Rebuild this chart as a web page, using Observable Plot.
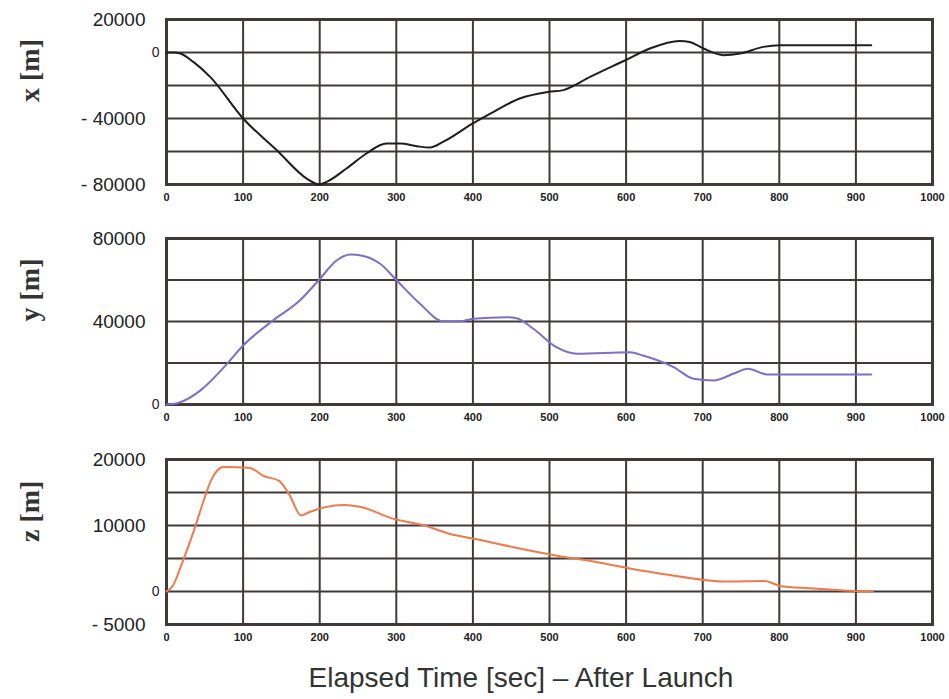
<!DOCTYPE html>
<html>
<head>
<meta charset="utf-8">
<script src="https://cdn.jsdelivr.net/npm/d3@7"></script>
<script src="https://cdn.jsdelivr.net/npm/@observablehq/plot@0.6"></script>
<style>
  body { margin: 0; background: #fff; width: 949px; font-family: "Liberation Sans", Arial, sans-serif; }
  #chart svg { display: block; }
  #caption { height: 56px; line-height: 56px; text-align: center; padding-left: 93px; font-size: 28px; color: #333; font-family: "Liberation Sans", Arial, sans-serif; }
</style>
</head>
<body>
<div id="chart"></div>
<div id="caption">Elapsed Time [sec] – After Launch</div>
<script>
// Shared time ticks
const timeTicks = [0, 100, 200, 300, 400, 500, 600, 700, 800, 900, 1000];

// x [m] panel
const xTime = [0, 10, 18, 35, 57, 100, 144, 183, 199, 209, 235, 261, 287, 305, 327, 344, 361, 400, 427, 461, 498, 518, 553, 599, 631, 670, 683, 701, 727, 749, 779, 801, 920];
const xPos  = [0, 0, -600, -5700, -14800, -40000, -59200, -76400, -80000, -78400, -70300, -61200, -55200, -55200, -56800, -57600, -54200, -43000, -36000, -27900, -23900, -22800, -14800, -4700, 2400, 7000, 6400, 2400, -1600, -600, 3400, 4400, 4400];
const xGrid = [-80000, -60000, -40000, -20000, 0, 20000];
const xTickLabels = [20000, 0, -40000, -80000];

// y [m] panel
const yTime = [0, 8, 18, 44, 79, 100, 139, 174, 199, 222, 240, 257, 279, 300, 331, 361, 383, 400, 444, 457, 479, 509, 536, 605, 622, 662, 688, 714, 740, 759, 784, 920];
const yPos  = [0, 200, 1100, 6700, 19600, 28400, 40500, 50100, 60000, 69400, 72300, 71600, 67800, 60000, 48500, 40100, 40100, 41300, 42100, 41600, 36500, 27600, 24400, 25200, 23600, 18000, 12400, 11600, 14800, 17200, 14500, 14500];
const yGrid = [0, 20000, 40000, 60000, 80000];
const yTickLabels = [80000, 40000, 0];

// z [m] panel
const zTime = [0, 8, 20, 36, 48, 58, 66, 74, 108, 127, 147, 160, 176, 186, 206, 232, 252, 297, 337, 369, 408, 461, 513, 552, 605, 657, 703, 729, 781, 801, 840, 892, 922];
const zPos  = [0, 800, 4200, 9300, 13600, 16800, 18300, 18850, 18750, 17500, 16750, 14750, 11500, 12000, 12750, 13100, 12850, 11000, 10000, 8750, 7850, 6500, 5350, 4650, 3500, 2500, 1750, 1500, 1600, 850, 500, 100, 0];
const zGrid = [-5000, 0, 5000, 10000, 15000, 20000];
const zTickLabels = [20000, 10000, 0, -5000];

const gridColor = "#3f3a37";
const fmt = d => d < 0 ? "- " + Math.abs(d) : String(d);

function panel({time, values, color, yDomain, grid, labels, title, height, marginTop}) {
  const data = time.map((t, i) => ({t, v: values[i]}));
  return Plot.plot({
    width: 949,
    height,
    marginLeft: 166,
    marginRight: 17,
    marginTop,
    marginBottom: 26,
    style: {fontFamily: "Liberation Sans, Arial, sans-serif", background: "#fff"},
    x: {domain: [0, 1000], label: null},
    y: {domain: yDomain, axis: null},
    marks: [
      Plot.ruleX(timeTicks, {stroke: gridColor, strokeWidth: 2}),
      Plot.ruleY(grid, {stroke: gridColor, strokeWidth: 2}),
      Plot.frame({stroke: gridColor, strokeWidth: 3}),
      Plot.line(data, {x: "t", y: "v", stroke: color, strokeWidth: 2, curve: "monotone-x"}),
      Plot.axisX(timeTicks, {label: null, tickSize: 0, tickPadding: 9, fontSize: 11, fontWeight: "bold", fill: "#222", tickFormat: d => String(d)}),
      Plot.text(labels.filter(d => d !== 0), {y: d => d, text: fmt, frameAnchor: "left", dx: -21, textAnchor: "end", fontSize: 19, fill: "#222"}),
      Plot.text(labels.filter(d => d === 0), {y: d => d, text: fmt, frameAnchor: "left", dx: -7, textAnchor: "end", fontSize: 14, fill: "#222"}),
      Plot.text([title], {text: d => d, frameAnchor: "left", dx: -136, rotate: -90, fontFamily: "Liberation Serif, Times New Roman, serif", fontWeight: "bold", fontSize: 28, fill: "#333"})
    ]
  });
}

const chart = document.getElementById("chart");
chart.appendChild(panel({time: xTime, values: xPos, color: "#1e1e1e", yDomain: [-80000, 20000], grid: xGrid, labels: xTickLabels, title: "x [m]", height: 210, marginTop: 19}));
chart.appendChild(panel({time: yTime, values: yPos, color: "#7d6fc6", yDomain: [0, 80000], grid: yGrid, labels: yTickLabels, title: "y [m]", height: 220, marginTop: 28}));
chart.appendChild(panel({time: zTime, values: zPos, color: "#ef7a4c", yDomain: [-5000, 20000], grid: zGrid, labels: zTickLabels, title: "z [m]", height: 220, marginTop: 29}));
</script>
</body>
</html>
